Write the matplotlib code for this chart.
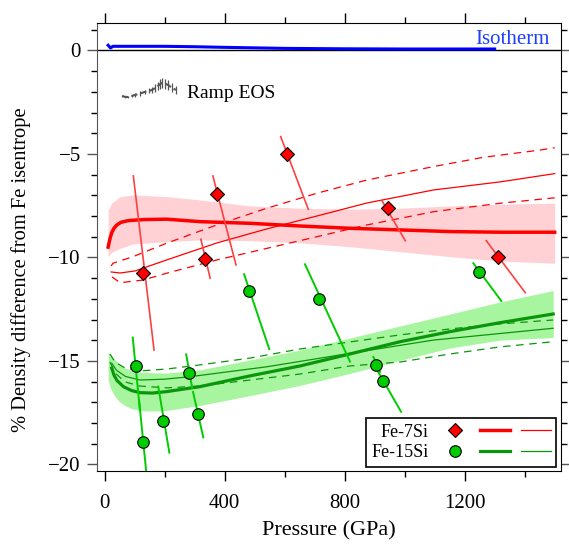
import matplotlib.pyplot as plt
from matplotlib.lines import Line2D
from matplotlib.ticker import MultipleLocator

plt.rcParams['font.family'] = ['Liberation Serif', 'DejaVu Serif']

# isotherm (blue)
iso_p = [12, 20, 28, 40, 100, 200, 300, 400, 600, 800, 1000, 1200, 1300]
iso_y = [0.25, 0.12, 0.2, 0.2, 0.2, 0.2, 0.18, 0.15, 0.1, 0.08, 0.07, 0.07, 0.07]

# ramp EOS (grey, with error bars)
ramp_p = [59, 68, 78, 90, 102, 118, 135, 147, 158, 168, 178, 185, 192, 202, 212, 225, 238]
ramp_y = [-2.2, -2.24, -2.25, -2.2, -2.15, -2.08, -2.0, -1.95, -1.91, -1.82, -1.71, -1.63, -1.57, -1.6, -1.67, -1.81, -1.91]
ramp_err = [0.04, 0.05, 0.06, 0.06, 0.08, 0.1, 0.1, 0.12, 0.14, 0.18, 0.2, 0.24, 0.26, 0.24, 0.25, 0.22, 0.2]

# Fe-7Si model: thick line + band, thin line + dashed bounds
p7_thick = [12, 18, 24, 32, 41, 55, 79, 130, 207, 318, 485, 652, 818, 985, 1152, 1318, 1500]
y7_thick = [-9.5, -9.1, -8.8, -8.58, -8.43, -8.3, -8.22, -8.17, -8.15, -8.27, -8.35, -8.48, -8.59, -8.67, -8.75, -8.78, -8.78]
p7_band = [12, 24, 52, 95, 207, 318, 485, 652, 818, 985, 1152, 1318, 1500]
y7_band_hi = [-7.71, -7.37, -7.06, -6.98, -7.06, -7.22, -7.51, -7.62, -7.67, -7.62, -7.51, -7.43, -7.38]
y7_band_lo = [-9.96, -9.75, -9.56, -9.35, -9.24, -9.15, -9.19, -9.29, -9.48, -9.72, -9.96, -10.17, -10.28]
p7_thin = [22, 52, 102, 207, 374, 541, 707, 874, 1096, 1318, 1500]
y7_thin = [-10.7, -10.75, -10.65, -10.12, -9.3, -8.62, -8.0, -7.37, -6.74, -6.35, -5.95]
p7_dhi = [22, 28, 95, 207, 374, 541, 707, 874, 1096, 1263, 1452, 1500]
y7_dhi = [-10.41, -10.28, -9.96, -9.31, -8.43, -7.62, -6.9, -6.26, -5.61, -5.16, -4.81, -4.7]
p7_dlo = [25, 52, 129, 207, 374, 541, 707, 874, 1096, 1318, 1485, 1500]
y7_dlo = [-10.94, -11.22, -11.09, -10.76, -10.12, -9.56, -9.0, -8.43, -7.79, -7.38, -7.14, -7.12]

# Fe-7Si measurements and slanted error segments
p7_pts = [129, 335, 374, 607, 943, 1311]
y7_pts = [-10.76, -10.09, -6.93, -5.01, -7.62, -9.99]
p7_e1 = [96, 321, 361, 587, 925, 1272]
y7_e1 = [-6.06, -9.12, -6.06, -4.16, -7.27, -9.19]
p7_e2 = [165, 352, 438, 679, 1002, 1402]
y7_e2 = [-14.47, -11.0, -10.36, -7.67, -9.19, -11.7]

# Fe-15Si model
p15_thick = [24, 32, 42, 63, 90, 118, 160, 207, 318, 485, 652, 818, 985, 1152, 1318, 1495]
y15_thick = [-15.35, -15.7, -15.95, -16.24, -16.43, -16.53, -16.55, -16.48, -16.24, -15.72, -15.24, -14.66, -14.07, -13.58, -13.15, -12.73]
p15_band = [12, 22, 35, 50, 68, 90, 118, 160, 207, 318, 485, 652, 818, 985, 1152, 1318, 1495]
y15_band_hi = [-14.57, -14.8, -14.95, -15.15, -15.34, -15.46, -15.53, -15.57, -15.58, -15.43, -14.95, -14.47, -13.89, -13.31, -12.73, -12.15, -11.6]
y15_band_lo = [-15.92, -16.4, -16.71, -16.97, -17.15, -17.3, -17.39, -17.42, -17.39, -17.15, -16.67, -16.18, -15.6, -14.97, -14.37, -13.99, -13.87]
p15_thin = [24, 40, 70, 118, 200, 285, 541, 818, 1096, 1495]
y15_thin = [-15.11, -15.45, -15.75, -15.92, -15.88, -15.76, -15.28, -14.63, -13.99, -13.42]
p15_dhi = [18, 35, 68, 118, 207, 318, 485, 652, 818, 985, 1152, 1318, 1495]
y15_dhi = [-14.66, -15.05, -15.34, -15.48, -15.39, -15.19, -14.86, -14.42, -14.08, -13.74, -13.45, -13.21, -13.02]
p15_dlo = [18, 35, 68, 118, 207, 318, 485, 652, 818, 985, 1152, 1318, 1495]
y15_dlo = [-15.05, -15.58, -16.01, -16.21, -16.3, -16.21, -15.92, -15.63, -15.24, -15.05, -14.66, -14.32, -14.07]

# Fe-15Si measurements and slanted error segments
p15_pts = [104, 129, 196, 283, 311, 483, 716, 905, 927, 1249]
y15_pts = [-15.24, -18.9, -17.9, -15.57, -17.57, -11.62, -12.02, -15.19, -15.95, -10.69]
p15_e1 = [94, 115, 179, 272, 295, 465, 668, 896, 912, 1229]
y15_e1 = [-13.87, -16.88, -16.24, -14.68, -16.5, -10.81, -10.33, -14.81, -15.53, -10.28]
p15_e2 = [118, 145, 216, 292, 329, 549, 818, 918, 988, 1322]
y15_e2 = [-17.37, -21.23, -19.43, -16.3, -18.69, -14.43, -15.03, -15.53, -17.45, -12.1]

red = '#ff0000'
green_dark = '#0a960a'
green_pt = '#00cc00'

fig = plt.figure(figsize=(5.69, 5.46), dpi=100)
ax = fig.add_axes([0.170, 0.1368, 0.8154, 0.8216])

ax.axhline(0, color='black', lw=1.0, zorder=1)

# bands
ax.fill_between(p7_band, y7_band_lo, y7_band_hi, color='#ffd0d4', lw=0, zorder=1)
ax.fill_between(p15_band, y15_band_lo, y15_band_hi, color='#a8f5a0', lw=0, zorder=1)

# Fe-7Si lines
ax.plot(p7_thin, y7_thin, color=red, lw=0.9, zorder=2)
ax.plot(p7_dhi, y7_dhi, color=red, lw=0.9, dashes=(6, 4.5), zorder=2)
ax.plot(p7_dlo, y7_dlo, color=red, lw=0.9, dashes=(6, 4.5), zorder=2)
ax.plot(p7_thick, y7_thick, color=red, lw=2.5, zorder=3)

# Fe-15Si lines
ax.plot(p15_thin, y15_thin, color=green_dark, lw=0.9, zorder=2)
ax.plot(p15_dhi, y15_dhi, color=green_dark, lw=0.9, dashes=(6, 4.5), zorder=2)
ax.plot(p15_dlo, y15_dlo, color=green_dark, lw=0.9, dashes=(6, 4.5), zorder=2)
ax.plot(p15_thick, y15_thick, color=green_dark, lw=2.3, zorder=3)

# slanted error segments
for a, b, c, d in zip(p7_e1, p7_e2, y7_e1, y7_e2):
    ax.plot([a, b], [c, d], color='#ff4040', lw=1.2, zorder=4)
for a, b, c, d in zip(p15_e1, p15_e2, y15_e1, y15_e2):
    ax.plot([a, b], [c, d], color=green_pt, lw=1.4, zorder=4)

ax.plot(p7_pts, y7_pts, 'D', ms=7.6, mfc=red, mec='black', mew=0.8, zorder=5)
ax.plot(p15_pts, y15_pts, 'o', ms=8.3, mfc=green_pt, mec='black', mew=0.8, zorder=5)

# isotherm and ramp
ax.plot(iso_p, iso_y, color='#0000ff', lw=2.2, zorder=4)
ax.text(1482, 0.3, 'Isotherm', color='#1f3fff', ha='right', va='baseline', fontsize=15)
ax.errorbar(ramp_p, ramp_y, yerr=ramp_err, color='#555555', lw=1.5, elinewidth=0.9,
            capsize=0, dashes=(3, 1.5), zorder=4)
ax.text(275, -2.31, 'Ramp EOS', ha='left', va='baseline', fontsize=14)

ax.set_xlim(-26, 1520)
ax.set_ylim(-20.33, 1.34)
ax.xaxis.set_major_locator(MultipleLocator(400))
ax.xaxis.set_minor_locator(MultipleLocator(200))
ax.yaxis.set_major_locator(MultipleLocator(5))
ax.yaxis.set_minor_locator(MultipleLocator(1))
ax.tick_params(which='both', direction='out', top=True, right=True, labelsize=15)
ax.tick_params(which='major', length=7.5, width=1)
ax.tick_params(which='minor', length=4.5, width=1)
ax.tick_params(axis='x', pad=9)
ax.tick_params(axis='y', pad=4, colors='#555555', labelcolor='black')
ax.spines['left'].set_color('#555555')

ax.set_xlabel('Pressure (GPa)', fontsize=16, labelpad=6)
ax.set_ylabel('% Density difference from Fe isentrope', fontsize=14.8)
ax.yaxis.set_label_coords(-0.142, 0.45)

handles = [
    Line2D([], [], ls='none', marker='D', ms=7.6, mfc=red, mec='black', mew=0.8),
    Line2D([], [], ls='none', marker='o', ms=8.3, mfc=green_pt, mec='black', mew=0.8),
    Line2D([], [], color=red, lw=2.5),
    Line2D([], [], color=green_dark, lw=2.3),
    Line2D([], [], color=red, lw=0.9),
    Line2D([], [], color=green_dark, lw=0.9),
]
labels = ['Fe-7Si', 'Fe-15Si', '', '', '', '']
leg = ax.legend(handles, labels, loc='lower right', ncol=3, markerfirst=False,
                handlelength=1.65, columnspacing=0, handletextpad=0.6,
                fontsize=13, fancybox=False, framealpha=1, edgecolor='black',
                borderaxespad=0.25, borderpad=0.3, labelspacing=0.2)
leg.get_frame().set_linewidth(1.2)

fig.savefig('out.png', dpi=100)
